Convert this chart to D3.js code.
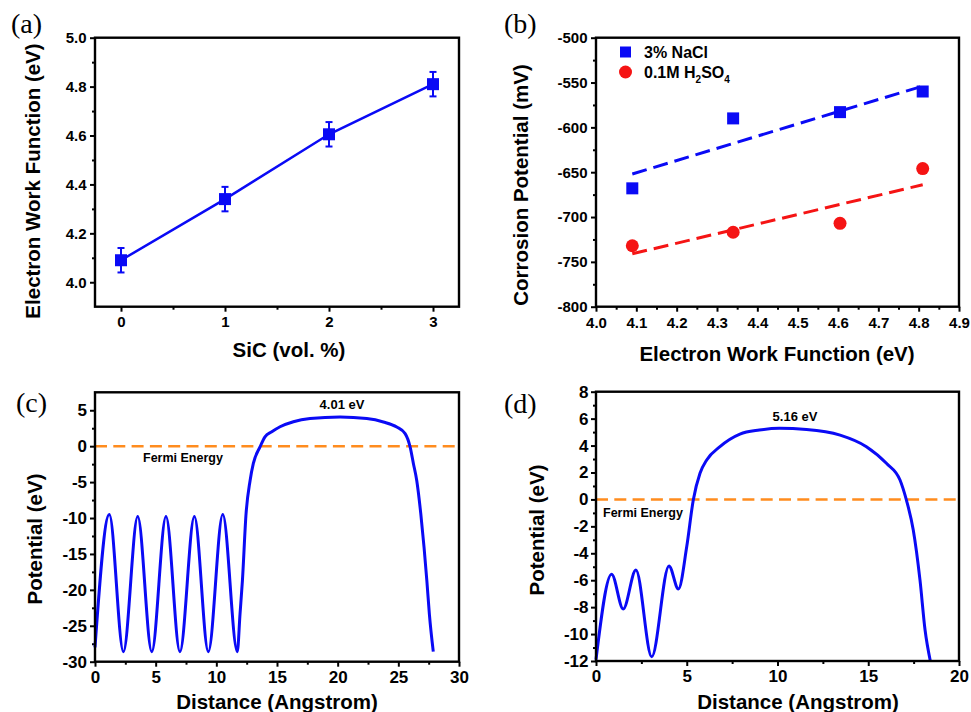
<!DOCTYPE html>
<html>
<head>
<meta charset="utf-8">
<script src="https://cdn.jsdelivr.net/npm/d3@7"></script>
<style>
body { margin: 0; background: #fff; }
text { font-family: "Liberation Sans", Arial, sans-serif; font-weight: bold; }
</style>
</head>
<body>
<div id="fig"></div>
<script>
// (a) work function vs SiC content
const sicContent = [0, 1, 2, 3]
const workFunction = [4.09, 4.34, 4.605, 4.81]
const workFunctionErr = [0.05, 0.05, 0.05, 0.05]

// (b) corrosion potential vs work function
const ewf = [4.09, 4.34, 4.605, 4.81]
const ecorrNaCl = [-668, -590, -583, -560]
const ecorrH2SO4 = [-732, -717, -707, -646]
const fitNaCl = [[4.09, -652], [4.81, -554]]
const fitH2SO4 = [[4.09, -741], [4.81, -664]]

// (c) planar averaged potential, 4.01 eV
const distC = [0, 1.18, 2.34, 3.52, 4.68, 5.85, 7.0, 8.19, 9.34, 10.53, 11.73, 11.95, 12.15, 12.45,
    12.78, 13.05, 13.6, 14.01, 14.57, 15.25, 16.35, 17.72, 20.2, 22.4, 23.77, 24.87, 25.56,
    25.97, 26.24, 26.52, 26.85, 27.12, 27.35, 27.56, 27.88]
const potC = [-28.0, -9.5, -28.6, -9.8, -28.6, -9.8, -28.6, -9.8, -28.6, -9.5, -28.6, -23.4, -18.7, -9.4,
    -4.8, -2.4, -0.1, 1.3, 2.0, 2.7, 3.4, 3.84, 4.05, 3.84, 3.37, 2.67, 1.75,
    -0.1, -2.4, -4.8, -9.4, -14.1, -18.7, -23.4, -28.6]

// (d) planar averaged potential, 5.16 eV
const distD = [0, 0.86, 1.5, 2.2, 3.07, 4.02, 4.54, 5.0, 5.36, 5.73, 6.1, 6.83, 7.93, 9.0, 10.1,
    11.6, 13.45, 14.9, 16.0, 16.75, 17.1, 17.48, 17.85, 18.13, 18.42]
const potD = [-11.9, -5.56, -8.14, -5.24, -11.68, -4.94, -6.65, -3.5, -0.04, 1.94, 2.93, 3.92, 4.85, 5.15, 5.28,
    5.2, 4.78, 3.92, 2.68, 1.44, -0.04, -2.27, -5.98, -9.7, -12]

const blue = "#0a0af5"
const red = "#f51414"
const orange = "#ff8c1e"

const svg = d3.select("#fig")
    .append("svg")
    .attr("width", 971)
    .attr("height", 712)

function range(a, b, step) {
    return d3.range(0, Math.round((b - a) / step) + 1).map(i => +(a + i * step).toFixed(4))
}

function makePanel(p) {
    const x = d3.scaleLinear().domain(p.xDomain).range([p.left, p.right])
    const y = d3.scaleLinear().domain(p.yDomain).range([p.bottom, p.top])

    const style = function(g) {
        g.select(".domain").remove()
        g.selectAll("line").attr("stroke", "#000").attr("stroke-width", 2)
        g.attr("font-size", p.tickFont)
            .attr("font-family", "'Liberation Sans', Arial, sans-serif")
            .attr("font-weight", "bold")
        g.selectAll("text").attr("fill", "#000")
    }

    // minor ticks
    svg.append("g")
        .attr("transform", "translate(0," + p.bottom + ")")
        .call(d3.axisBottom(x).tickValues(p.xMinor).tickSize(3).tickFormat(""))
        .call(style)
    svg.append("g")
        .attr("transform", "translate(" + p.left + ",0)")
        .call(d3.axisLeft(y).tickValues(p.yMinor).tickSize(3).tickFormat(""))
        .call(style)
    // major ticks
    svg.append("g")
        .attr("transform", "translate(0," + p.bottom + ")")
        .call(d3.axisBottom(x).tickValues(p.xMajor).tickSize(5).tickPadding(p.xPad).tickFormat(p.xFormat))
        .call(style)
    svg.append("g")
        .attr("transform", "translate(" + p.left + ",0)")
        .call(d3.axisLeft(y).tickValues(p.yMajor).tickSize(5).tickPadding(p.yPad).tickFormat(p.yFormat))
        .call(style)

    // axis titles
    svg.append("text")
        .attr("x", p.xTitle[0]).attr("y", p.xTitle[1])
        .attr("text-anchor", "middle")
        .attr("font-size", 20.5)
        .text(p.xLabel)
    svg.append("text")
        .attr("transform", "translate(" + p.yTitle[0] + "," + p.yTitle[1] + ") rotate(-90)")
        .attr("text-anchor", "middle")
        .attr("font-size", 20.5)
        .text(p.yLabel)

    // panel letter
    svg.append("text")
        .attr("x", p.letterPos[0]).attr("y", p.letterPos[1])
        .style("font-family", "'Liberation Serif', 'Times New Roman', serif")
        .style("font-weight", "normal")
        .attr("font-size", 28)
        .text(p.letter)

    const plot = svg.append("g")
    const frame = function() {
        svg.append("rect")
            .attr("x", p.left).attr("y", p.top)
            .attr("width", p.right - p.left).attr("height", p.bottom - p.top)
            .attr("fill", "none").attr("stroke", "#000").attr("stroke-width", 2.4)
    }
    return {x: x, y: y, g: plot, frame: frame}
}

// ---------- (a)
const pa = makePanel({
    left: 95, right: 459, top: 37.7, bottom: 306.7,
    xDomain: [-0.25, 3.25], yDomain: [3.9, 5.0],
    xMajor: [0, 1, 2, 3], xMinor: [0.5, 1.5, 2.5],
    yMajor: range(4.0, 5.0, 0.2), yMinor: range(4.1, 4.9, 0.2),
    xFormat: d => d.toFixed(0), yFormat: d => d.toFixed(1),
    tickFont: 15, xPad: 4.5, yPad: 3.5,
    xLabel: "SiC (vol. %)", xTitle: [289, 357],
    yLabel: "Electron Work Function (eV)", yTitle: [40, 181],
    letter: "(a)", letterPos: [11, 33]
})
const aData = sicContent.map((d, i) => ({x: d, y: workFunction[i], e: workFunctionErr[i]}))
pa.g.append("path")
    .datum(aData)
    .attr("fill", "none").attr("stroke", blue).attr("stroke-width", 2.5)
    .attr("d", d3.line().x(d => pa.x(d.x)).y(d => pa.y(d.y)))
const errG = pa.g.selectAll("g.err").data(aData).enter().append("g")
errG.append("line")
    .attr("x1", d => pa.x(d.x)).attr("x2", d => pa.x(d.x))
    .attr("y1", d => pa.y(d.y - d.e)).attr("y2", d => pa.y(d.y + d.e))
    .attr("stroke", blue).attr("stroke-width", 2)
errG.selectAll("line.cap")
    .data(d => [[d.x, d.y - d.e], [d.x, d.y + d.e]])
    .enter().append("line")
    .attr("x1", d => pa.x(d[0]) - 3.5).attr("x2", d => pa.x(d[0]) + 3.5)
    .attr("y1", d => pa.y(d[1])).attr("y2", d => pa.y(d[1]))
    .attr("stroke", blue).attr("stroke-width", 2)
pa.g.selectAll("rect.pt").data(aData).enter().append("rect")
    .attr("x", d => pa.x(d.x) - 6).attr("y", d => pa.y(d.y) - 6)
    .attr("width", 12).attr("height", 12)
    .attr("fill", blue)
pa.frame()

// ---------- (b)
const pb = makePanel({
    left: 596, right: 959, top: 37.7, bottom: 306.7,
    xDomain: [4.0, 4.9], yDomain: [-800, -500],
    xMajor: range(4.0, 4.9, 0.1), xMinor: range(4.05, 4.85, 0.1),
    yMajor: range(-800, -500, 50), yMinor: range(-775, -525, 50),
    xFormat: d => d.toFixed(1), yFormat: d => d.toFixed(0),
    tickFont: 15, xPad: 5.5, yPad: 3.5,
    xLabel: "Electron Work Function (eV)", xTitle: [777, 361],
    yLabel: "Corrosion Potential (mV)", yTitle: [528, 185],
    letter: "(b)", letterPos: [504, 33]
})
const fitLine = d3.line().x(d => pb.x(d[0])).y(d => pb.y(d[1]))
pb.g.append("path").attr("d", fitLine(fitNaCl))
    .attr("stroke", blue).attr("stroke-width", 3).attr("stroke-dasharray", "15,7").attr("fill", "none")
pb.g.append("path").attr("d", fitLine(fitH2SO4))
    .attr("stroke", red).attr("stroke-width", 3).attr("stroke-dasharray", "15,7").attr("fill", "none")
pb.g.selectAll("rect.nacl").data(ewf).enter().append("rect")
    .attr("x", (d, i) => pb.x(d) - 6).attr("y", (d, i) => pb.y(ecorrNaCl[i]) - 6)
    .attr("width", 12).attr("height", 12)
    .attr("fill", blue)
pb.g.selectAll("circle.h2so4").data(ewf).enter().append("circle")
    .attr("cx", d => pb.x(d)).attr("cy", (d, i) => pb.y(ecorrH2SO4[i]))
    .attr("r", 6.5)
    .attr("fill", red)
// legend
pb.g.append("rect").attr("x", 620).attr("y", 46.5).attr("width", 11).attr("height", 11).attr("fill", blue)
pb.g.append("text").attr("x", 644).attr("y", 57.5).attr("font-size", 16).text("3% NaCl")
pb.g.append("circle").attr("cx", 625.5).attr("cy", 72).attr("r", 6.5).attr("fill", red)
const leg2 = pb.g.append("text").attr("x", 644).attr("y", 77.5).attr("font-size", 16)
leg2.append("tspan").text("0.1M H")
leg2.append("tspan").attr("font-size", 10).attr("dy", 5).text("2")
leg2.append("tspan").attr("dy", -5).text("SO")
leg2.append("tspan").attr("font-size", 10).attr("dy", 5).text("4")
pb.frame()

// ---------- (c) and (d)
function potentialPanel(p, dist, pot, label, labelPos, fermiPos) {
    const pp = makePanel(p)
    pp.g.append("line")
        .attr("x1", pp.x(p.xDomain[0])).attr("x2", pp.x(p.xDomain[1]))
        .attr("y1", pp.y(0)).attr("y2", pp.y(0))
        .attr("stroke", orange).attr("stroke-width", 2.5).attr("stroke-dasharray", "12,6.3")
    pp.g.append("path")
        .datum(dist.map((d, i) => [d, pot[i]]))
        .attr("fill", "none").attr("stroke", blue).attr("stroke-width", 3)
        .attr("d", d3.line().curve(d3.curveMonotoneX).x(d => pp.x(d[0])).y(d => pp.y(d[1])))
    pp.g.append("text").attr("x", labelPos[0]).attr("y", labelPos[1])
        .attr("text-anchor", "middle").attr("font-size", 13).text(label)
    pp.g.append("text").attr("x", fermiPos[0]).attr("y", fermiPos[1])
        .attr("font-size", 12.5).text("Fermi Energy")
    pp.frame()
}

potentialPanel({
    left: 95, right: 459, top: 392.3, bottom: 661.7,
    xDomain: [0, 30], yDomain: [-30, 7.5],
    xMajor: range(0, 30, 5), xMinor: range(2.5, 27.5, 5),
    yMajor: range(-30, 5, 5), yMinor: range(-27.5, 2.5, 5),
    xFormat: d => d.toFixed(0), yFormat: d => d.toFixed(0),
    tickFont: 17, xPad: 4, yPad: 3,
    xLabel: "Distance (Angstrom)", xTitle: [277, 709],
    yLabel: "Potential (eV)", yTitle: [42, 539],
    letter: "(c)", letterPos: [16, 412]
}, distC, potC, "4.01 eV", [342, 409], [143, 462])

potentialPanel({
    left: 596, right: 959, top: 391.7, bottom: 661,
    xDomain: [0, 20], yDomain: [-12, 8],
    xMajor: range(0, 20, 5), xMinor: range(2.5, 17.5, 5),
    yMajor: range(-12, 8, 2), yMinor: range(-11, 7, 2),
    xFormat: d => d.toFixed(0), yFormat: d => d.toFixed(0),
    tickFont: 17, xPad: 4, yPad: 2.5,
    xLabel: "Distance (Angstrom)", xTitle: [798, 709],
    yLabel: "Potential (eV)", yTitle: [544, 530],
    letter: "(d)", letterPos: [504, 413]
}, distD, potD, "5.16 eV", [795, 421], [603, 517])
</script>
</body>
</html>
